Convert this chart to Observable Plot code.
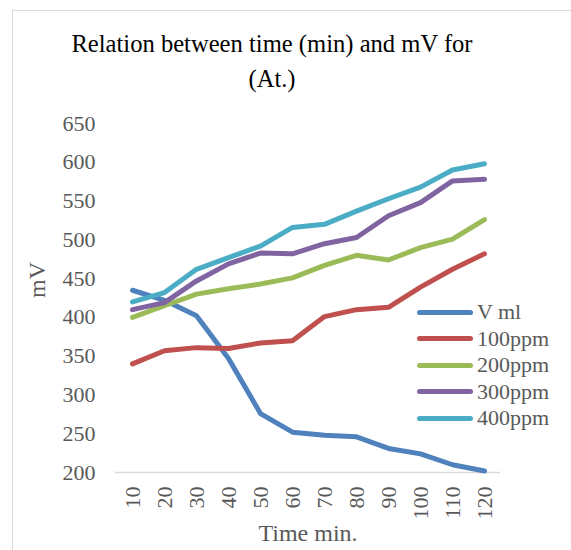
<!DOCTYPE html>
<html>
<head>
<meta charset="utf-8">
<script src="https://cdn.jsdelivr.net/npm/d3@7"></script>
<script src="https://cdn.jsdelivr.net/npm/@observablehq/plot@0.6"></script>
<style>
  html, body { margin: 0; padding: 0; background: #fff; }
  #wrap { position: relative; width: 571px; height: 550px; overflow: hidden; font-family: "Liberation Serif", serif; }
  #border { position: absolute; left: 12px; top: 10px; width: 600px; height: 600px; border: 1.5px solid #d9d9d9; box-sizing: border-box; }
  #title { position: absolute; left: 12px; width: 520px; top: 26px; text-align: center; font-family: "Liberation Serif", serif; font-size: 24.6px; line-height: 35px; color: #000; }
  #legend { position: absolute; left: 417px; top: 299px; font-family: "Liberation Serif", serif; font-size: 22px; color: #595959; }
  .row { display: flex; align-items: center; height: 26.5px; }
  .sw { width: 56px; height: 5px; border-radius: 3px; margin-right: 4px; }
  svg { position: absolute; left: 0; top: 0; }
</style>
</head>
<body>
<div id="wrap">
  <div id="border"></div>
  <div id="title">Relation between time (min) and mV for<br>(At.)</div>
  <div id="legend"></div>
</div>
<script>
const times = ["10","20","30","40","50","60","70","80","90","100","110","120"];
const seriesNames = ["V ml","100ppm","200ppm","300ppm","400ppm"];
const colors = ["#4F81BD","#C0504D","#9BBB59","#8064A2","#4BACC6"];
const vml    = [435, 422, 402, 347, 276, 252, 248, 246, 231, 224, 210, 202];
const ppm100 = [340, 357, 361, 360, 367, 370, 401, 410, 413, 439, 462, 482];
const ppm200 = [400, 415, 430, 437, 443, 451, 467, 480, 474, 490, 501, 526];
const ppm300 = [410, 419, 447, 469, 483, 482, 495, 503, 531, 548, 576, 578];
const ppm400 = [420, 432, 462, 477, 492, 516, 520, 537, 553, 568, 590, 598];
const yTicks = [200, 250, 300, 350, 400, 450, 500, 550, 600, 650];

const allSeries = [vml, ppm100, ppm200, ppm300, ppm400];
const data = [];
allSeries.forEach((vals, s) => vals.forEach((v, i) => data.push({series: seriesNames[s], time: times[i], value: v})));

const plot = Plot.plot({
  width: 571,
  height: 550,
  marginLeft: 115,
  marginRight: 71,
  marginTop: 123,
  marginBottom: 78,
  style: {fontFamily: "Liberation Serif, serif", background: "transparent", overflow: "visible"},
  x: {type: "band", domain: times, padding: 0},
  y: {domain: [200, 650]},
  color: {domain: seriesNames, range: colors},
  marks: [
    Plot.ruleY([200], {stroke: "#d9d9d9", strokeWidth: 1.5}),
    Plot.axisY({ticks: yTicks, tickSize: 0, tickPadding: 20, fontSize: 22, color: "#595959", label: null}),
    Plot.axisX({tickSize: 0, tickPadding: 14, tickRotate: -90, fontSize: 22, color: "#595959", label: null}),
    Plot.line(data, {x: "time", y: "value", z: "series", stroke: "series", strokeWidth: 5, strokeLinecap: "round", strokeLinejoin: "round"}),
    Plot.text(["mV"], {frameAnchor: "left", dx: -78, rotate: -90, fontSize: 24, fill: "#595959"}),
    Plot.text(["Time min."], {frameAnchor: "bottom", dy: 68, fontSize: 24, fill: "#595959"})
  ]
});
document.getElementById("wrap").appendChild(plot);

const legend = document.getElementById("legend");
seriesNames.forEach((n, i) => {
  const row = document.createElement("div");
  row.className = "row";
  const sw = document.createElement("div");
  sw.className = "sw";
  sw.style.background = colors[i];
  const t = document.createElement("span");
  t.textContent = n;
  row.appendChild(sw);
  row.appendChild(t);
  legend.appendChild(row);
});
</script>
</body>
</html>
